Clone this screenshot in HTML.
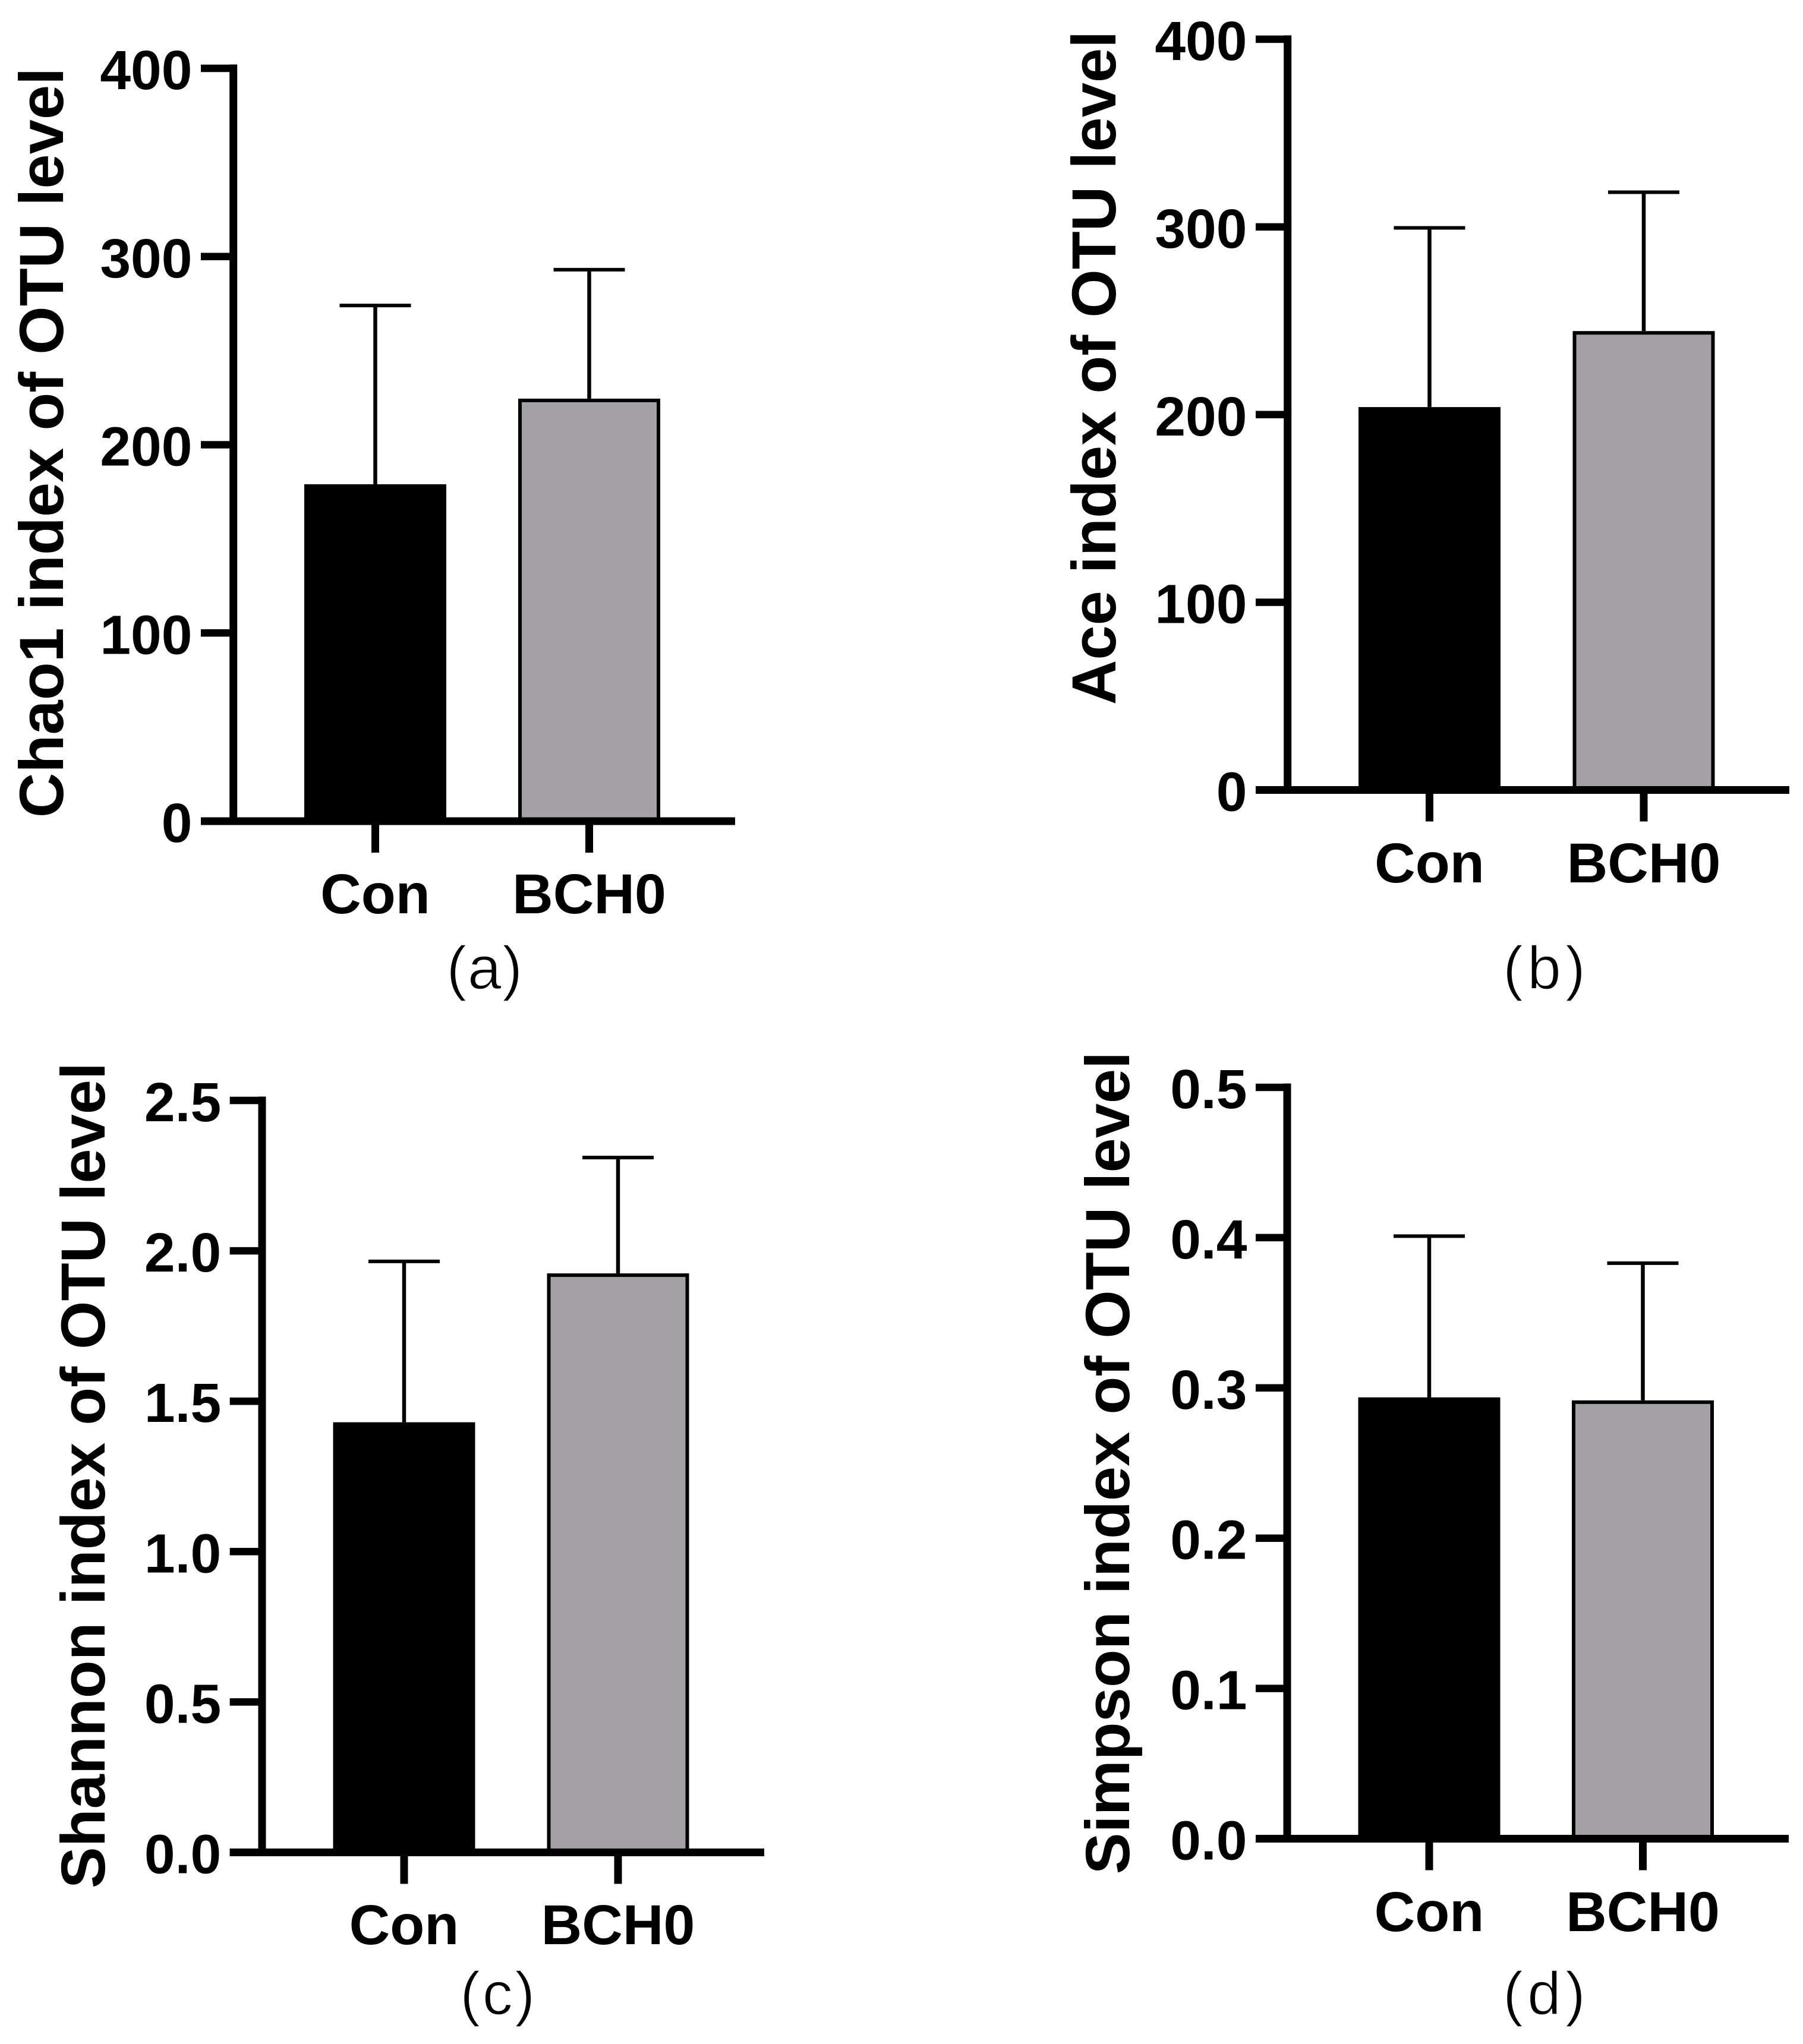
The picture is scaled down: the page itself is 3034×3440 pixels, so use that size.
<!DOCTYPE html>
<html lang="en">
<head>
<meta charset="utf-8">
<title>OTU level alpha diversity indices</title>
<style>
  html, body { margin: 0; padding: 0; background: #ffffff; }
  svg { display: block; }
  text { font-family: "Liberation Sans", Arial, sans-serif; fill: #000; }
  .tick-label { font-size: 93px; font-weight: 700; }
  .cat-label { font-size: 95px; font-weight: 700; }
  .y-title { font-size: 104.7px; font-weight: 700; text-anchor: middle; }
  .caption { font-size: 102px; font-weight: 400; text-anchor: middle; stroke: #ffffff; stroke-width: 1.5px; }
</style>
</head>
<body>
<svg id="figure" xmlns="http://www.w3.org/2000/svg" width="3034" height="3440" viewBox="0 0 3034 3440">
  <rect x="0" y="0" width="3034" height="3440" fill="#ffffff"/>
  <g id="panel-a">
    <text class="y-title" transform="translate(106 745) rotate(-90)">Chao1 index of OTU level</text>
    <text class="caption" style="letter-spacing:1.5px" x="816" y="1664">(a)</text>
  </g>
  <g id="panel-b">
    <text class="y-title" transform="translate(1877 619) rotate(-90)">Ace index of OTU level</text>
    <text class="caption" style="letter-spacing:7px" x="2602" y="1664">(b)</text>
  </g>
  <g id="panel-c">
    <text class="y-title" transform="translate(176 2483) rotate(-90)">Shannon index of OTU level</text>
    <text class="caption" style="letter-spacing:3.5px" x="839" y="3390">(c)</text>
  </g>
  <g id="panel-d">
    <text class="y-title" transform="translate(1900 2462) rotate(-90)">Simpson index of OTU level</text>
    <text class="caption" style="letter-spacing:7px" x="2602" y="3390">(d)</text>
  </g>
</svg>
<script>
const categories = ['Con', 'BCH0'];

const chao1Ticks = ['0', '100', '200', '300', '400'];
const chao1Means = [179, 224.5];
const chao1Upper = [274, 293];

const aceTicks = ['0', '100', '200', '300', '400'];
const aceMeans = [204, 244.5];
const aceUpper = [299.5, 318.5];

const shannonTicks = ['0.0', '0.5', '1.0', '1.5', '2.0', '2.5'];
const shannonMeans = [1.43, 1.925];
const shannonUpper = [1.965, 2.31];

const simpsonTicks = ['0.0', '0.1', '0.2', '0.3', '0.4', '0.5'];
const simpsonMeans = [0.2937, 0.2917];
const simpsonUpper = [0.401, 0.383];

const SVG_NS = 'http://www.w3.org/2000/svg';
const barFills = ['#000000', '#a3a1a6'];

function line(parent, x1, y1, x2, y2, width) {
  const el = document.createElementNS(SVG_NS, 'line');
  el.setAttribute('x1', x1);
  el.setAttribute('y1', y1);
  el.setAttribute('x2', x2);
  el.setAttribute('y2', y2);
  el.setAttribute('stroke', '#000');
  el.setAttribute('stroke-width', width);
  parent.appendChild(el);
  return el;
}

function label(parent, x, y, anchor, cls, content) {
  const el = document.createElementNS(SVG_NS, 'text');
  el.setAttribute('x', x);
  el.setAttribute('y', y);
  el.setAttribute('text-anchor', anchor);
  el.setAttribute('class', cls);
  el.textContent = content;
  parent.appendChild(el);
  return el;
}

function drawPanel(id, frame, ticks, means, upper) {
  const parent = document.getElementById(id);
  const maxValue = parseFloat(ticks[ticks.length - 1]);
  const yScale = function (v) { return frame.base - (v / maxValue) * (frame.base - frame.top); };
  const xScale = function (i) { return frame.firstCenter + i * frame.step; };

  categories.forEach(function (cat, i) {
    const cx = xScale(i);
    const yTop = yScale(means[i]);
    const yErr = yScale(upper[i]);

    const err = line(parent, cx, yTop, cx, yErr, 6.5);
    
    

    const cap = line(parent, cx - 60, yErr, cx + 60, yErr, 6);
    
    

    const bar = document.createElementNS(SVG_NS, 'rect');
    bar.setAttribute('x', cx - frame.barWidth / 2 + 3);
    bar.setAttribute('y', yTop + 3);
    bar.setAttribute('width', frame.barWidth - 6);
    bar.setAttribute('height', Math.max(0, frame.base - yTop - 3));
    bar.setAttribute('fill', barFills[i]);
    bar.setAttribute('stroke', '#000');
    bar.setAttribute('stroke-width', 6);
    
    
    parent.appendChild(bar);

    const xTick = line(parent, cx, frame.base, cx, frame.base + 53, 13);
    
    

    const xText = label(parent, cx, frame.catBaseline, 'middle', 'cat-label', cat);
    
    
  });

  const yAxis = line(parent, frame.axisX, frame.top - 6.5, frame.axisX, frame.base + 6.5, 13);
  
  

  const xAxis = line(parent, frame.left, frame.base, frame.right, frame.base, 13);
  
  

  ticks.forEach(function (tick) {
    const y = yScale(parseFloat(tick));
    const tickMark = line(parent, frame.left, y, frame.axisX, y, 12.5);
    
    

    const tickText = label(parent, frame.left - 14.5, y + 35, 'end', 'tick-label', tick);
    
    
  });
}

drawPanel('panel-a', { axisX: 392.7, top: 115, base: 1382, left: 338, right: 1237, firstCenter: 631.5, step: 360, barWidth: 239, catBaseline: 1537 }, chao1Ticks, chao1Means, chao1Upper);
drawPanel('panel-b', { axisX: 2166.7, top: 66, base: 1329.5, left: 2113, right: 3011, firstCenter: 2405.5, step: 360.5, barWidth: 239, catBaseline: 1485 }, aceTicks, aceMeans, aceUpper);
drawPanel('panel-c', { axisX: 441, top: 1852, base: 3117.5, left: 386.7, right: 1286, firstCenter: 680, step: 360, barWidth: 239, catBaseline: 3272 }, shannonTicks, shannonMeans, shannonUpper);
drawPanel('panel-d', { axisX: 2166, top: 1830, base: 3094.5, left: 2113, right: 3010, firstCenter: 2405, step: 359.5, barWidth: 239, catBaseline: 3250 }, simpsonTicks, simpsonMeans, simpsonUpper);
</script>
</body>
</html>
